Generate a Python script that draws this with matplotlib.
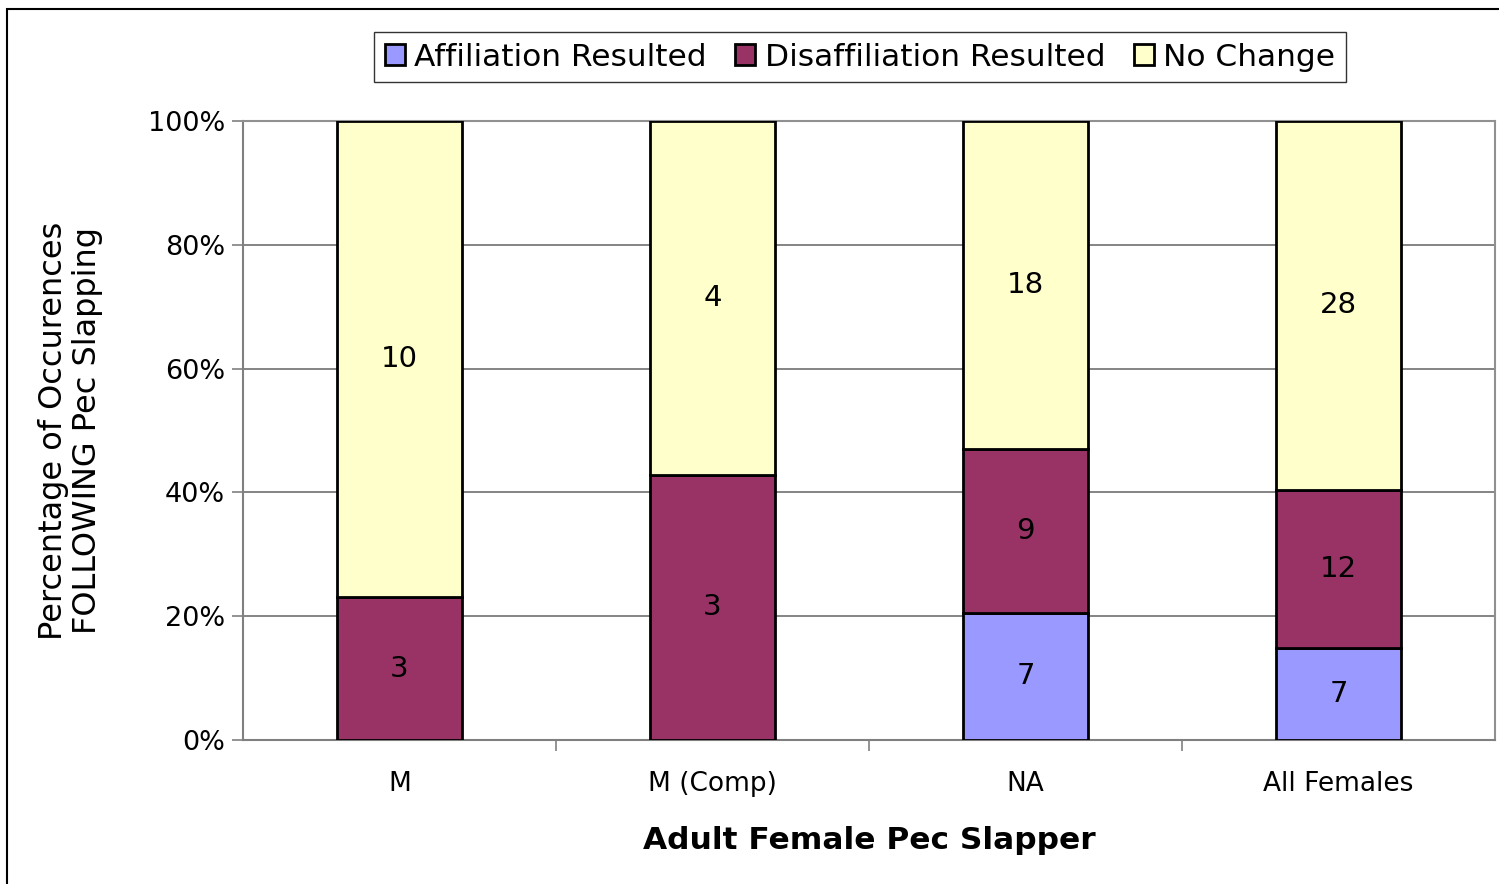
import numpy as np
import matplotlib.pyplot as plt
from matplotlib.patches import Rectangle

plt.rcParams["font.family"] = ["DejaVu Sans"]

# data: counts of outcomes per slapper category
categories = ["M", "M (Comp)", "NA", "All Females"]
affiliation = [0, 0, 7, 7]
disaffiliation = [3, 3, 9, 12]
no_change = [10, 4, 18, 28]
series_names = ["Affiliation Resulted", "Disaffiliation Resulted", "No Change"]
colors = ["#9999FF", "#993366", "#FFFFCC"]

counts = np.array([affiliation, disaffiliation, no_change], dtype=float)
totals = counts.sum(axis=0)
pct = counts / totals * 100

fig = plt.figure(figsize=(14.99, 8.84), dpi=100)
ax = fig.add_axes([243 / 1499, 1 - 740 / 884, (1495 - 243) / 1499, (740 - 121) / 884])

x = np.arange(len(categories))
bottom = np.zeros(len(categories))
for i in range(3):
    ax.bar(x, pct[i], 0.40, bottom=bottom, color=colors[i], edgecolor="black",
           linewidth=2.0, label=series_names[i], zorder=3)
    for j in range(len(categories)):
        if counts[i, j] > 0:
            ax.text(x[j], bottom[j] + pct[i, j] / 2, f"{int(counts[i, j])}",
                    ha="center", va="center", fontsize=21, zorder=4)
    bottom += pct[i]

ax.set_xlim(-0.5, len(categories) - 0.5)
ax.set_ylim(0, 100)
ax.set_yticks(np.arange(0, 101, 20))
ax.set_yticklabels([f"{v}%" for v in range(0, 101, 20)], fontsize=19.5)
ax.set_xticks(x)
ax.set_xticklabels(categories, fontsize=19)
ax.tick_params(axis="x", length=0, pad=22)
ax.tick_params(axis="y", length=8, width=1.2, color="#808080", pad=5)
ax.set_xticks(np.arange(0.5, len(categories) - 0.5), minor=True)
ax.tick_params(axis="x", which="minor", length=8, width=1.2, color="#808080")
ax.grid(axis="y", color="#707070", linewidth=1.2, zorder=0)

for side in ["top", "right"]:
    ax.spines[side].set_color("#909090")
    ax.spines[side].set_linewidth(1.5)
for side in ["left", "bottom"]:
    ax.spines[side].set_color("#808080")
    ax.spines[side].set_linewidth(1.5)

ax.set_xlabel("Adult Female Pec Slapper", fontsize=22.5, fontweight="bold", labelpad=21)
ax.set_ylabel("Percentage of Occurences\nFOLLOWING Pec Slapping", fontsize=23,
              labelpad=32, linespacing=1.15)

leg = fig.legend(loc="center", bbox_to_anchor=(860 / 1499, 1 - 57 / 884), ncol=3,
                 fontsize=22.5, frameon=True, fancybox=False, edgecolor="black",
                 handlelength=0.65, handleheight=0.65, handletextpad=0.3,
                 columnspacing=0.9, borderpad=0.35)
leg.get_frame().set_linewidth(1.0)
for h in leg.legend_handles:
    h.set_linewidth(2.0)

# outer chart border
fig.add_artist(Rectangle((7 / 1499, -0.01), 1.02, 1 - 9 / 884 + 0.01,
                         transform=fig.transFigure, fill=False,
                         edgecolor="black", linewidth=1.5))

fig.savefig("out.png", dpi=100)
